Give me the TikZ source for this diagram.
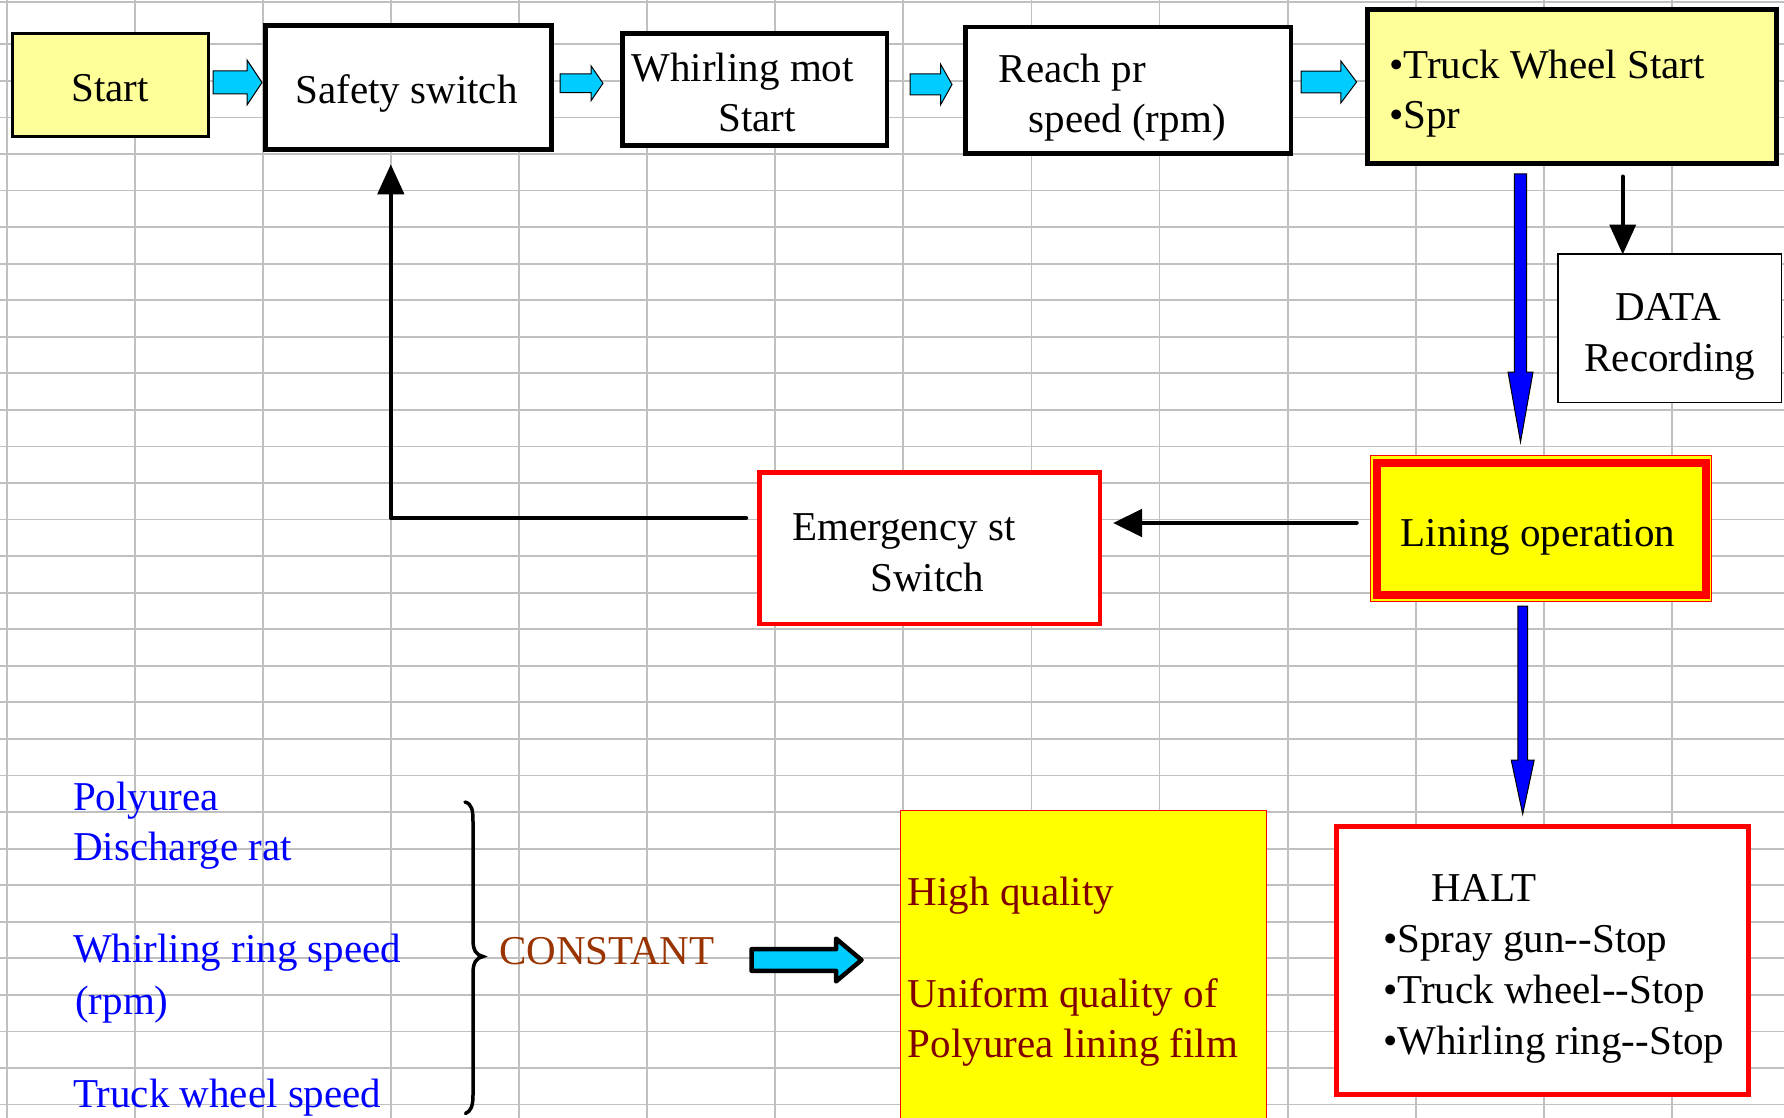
\documentclass[tikz,border=0pt]{standalone}
\usepackage{fontspec}
\setmainfont{Liberation Serif}
\usetikzlibrary{arrows.meta,calc}
\definecolor{gridc}{HTML}{C0C0C0}
\definecolor{lyel}{HTML}{FFFF99}
\definecolor{yel}{HTML}{FFFF00}
\definecolor{cyn}{HTML}{00CCFF}
\definecolor{blu}{HTML}{0000FF}
\definecolor{redc}{HTML}{FF0000}
\definecolor{brn}{HTML}{993300}
\definecolor{dred}{HTML}{800000}
\tikzset{
  gridl/.style={draw=gridc, line width=1.8pt},
  txt/.style={inner sep=0pt, font=\fontsize{41}{48}\selectfont},
  bx/.style={draw, inner sep=0pt, fill=white},
  cyarrow/.style={fill=cyn, draw=black, line width=1pt, line join=miter},
  bigarrow/.style={fill=cyn, draw=black, line width=4.5pt, line join=round},
  bluarrow/.style={fill=blu, draw=black, line width=1pt},
  blk/.style={draw=black, line width=4.5pt, line cap=round, -{Triangle[width=27pt,length=29pt]}},
}
% start x, head base x, centre y, shaft half, head half, tip x
\newcommand\cyarr[6]{\filldraw[cyarrow] (#1,#3-#4) -- (#2,#3-#4) -- (#2,#3-#5) -- (#6,#3) -- (#2,#3+#5) -- (#2,#3+#4) -- (#1,#3+#4) -- cycle;}
% centre x, start y, head base y, shaft half, head half, tip y
\newcommand\bluarr[6]{\filldraw[bluarrow] (#1-#4,#2) -- (#1+#4,#2) -- (#1+#4,#3) -- (#1+#5,#3) -- (#1,#6) -- (#1-#5,#3) -- (#1-#4,#3) -- cycle;}
\begin{document}
\begin{tikzpicture}[x=1pt,y=-1pt]
\useasboundingbox (0,0) rectangle (1784,1118);
\clip (0,0) rectangle (1784,1118);
\fill[white] (0,0) rectangle (1784,1118);
% spreadsheet grid
\foreach \i in {0,...,13} \draw[gridl] ({6.6+128.1*\i},0) -- ({6.6+128.1*\i},1118);
\draw[gridl] (0,1.7) -- (1784,1.7);
\foreach \j in {0,...,29} \draw[gridl] (0,{44.3+36.56*\j}) -- (1784,{44.3+36.56*\j});

% top row boxes
\node[bx, fill=lyel, line width=3pt, minimum width=196pt, minimum height=103pt] (start) at (110,85) {};
\node[bx, line width=4.5pt, minimum width=286pt, minimum height=124pt] (safety) at (408.5,87.5) {};
\node[bx, line width=4.5pt, minimum width=264.5pt, minimum height=112pt] (whirl) at (754.5,89.3) {};
\node[bx, line width=4.5pt, minimum width=325.5pt, minimum height=126.5pt] (reach) at (1128,90.5) {};
\node[bx, fill=lyel, line width=5pt, minimum width=409pt, minimum height=154pt] (truck) at (1572,86.5) {};
\node[bx, line width=1.5pt, minimum width=223.5pt, minimum height=148.5pt] (data) at (1669.5,328) {};
\node[bx, draw=redc, line width=4.5pt, minimum width=340.5pt, minimum height=151.5pt] (emerg) at (929.5,548) {};
\node[bx, draw=redc, fill=yel, line width=1pt, minimum width=341pt, minimum height=146pt] (linout) at (1540.5,528) {};
\node[bx, draw=redc, fill=yel, line width=8pt, minimum width=328.7pt, minimum height=132pt] (linin) at (1541.3,529.3) {};
\node[bx, draw=redc, line width=5pt, minimum width=412pt, minimum height=268pt] (halt) at (1542.5,960.5) {};
\node[bx, draw=redc, fill=yel, line width=1pt, minimum width=366pt, minimum height=330pt] (qual) at (1083.5,975) {};

% texts
\node[txt, anchor=base] (tstart) at (110,101.7) {Start};
\node[txt, anchor=base] (tsafety) at (406.5,104) {Safety switch};
\node[txt, anchor=base west] (twhirl1) at (631.5,81.7) {Whirling mot};
\node[txt, anchor=base] (twhirl2) at (757,131.7) {Start};
\node[txt, anchor=base west] (treach1) at (998.6,82.7) {Reach pr};
\node[txt, anchor=base west] (treach2) at (1028.5,132.7) {speed (rpm)};
\node[txt, anchor=base west] (ttruck1) at (1389,78.3) {•Truck Wheel Start};
\node[txt, anchor=base west] (ttruck2) at (1389,128.3) {•Spr};
\node[txt, anchor=base] (tdata1) at (1668,320.7) {DATA};
\node[txt, anchor=base] (tdata2) at (1670,371.7) {Recording};
\node[txt, anchor=base west] (temerg1) at (792,540.7) {Emergency st};
\node[txt, anchor=base] (temerg2) at (927.5,591.7) {Switch};
\node[txt, anchor=base] (tlining) at (1538,546) {Lining operation};
\node[txt, anchor=base] (thalt) at (1484,901.7) {HALT};
\node[txt, anchor=base west] (thalt1) at (1383,952.7) {•Spray gun-{}-Stop};
\node[txt, anchor=base west] (thalt2) at (1383,1003) {•Truck wheel-{}-Stop};
\node[txt, anchor=base west] (thalt3) at (1383,1054) {•Whirling ring-{}-Stop};
\node[txt, anchor=base west, text=dred] (tq1) at (907.7,905.7) {High quality};
\node[txt, anchor=base west, text=dred] (tq2) at (907.7,1007) {Uniform quality of};
\node[txt, anchor=base west, text=dred] (tq3) at (907.7,1057.7) {Polyurea lining film};
\node[txt, anchor=base west, text=blu] (tp1) at (73,810) {Polyurea};
\node[txt, anchor=base west, text=blu] (tp2) at (73,860.7) {Discharge rat};
\node[txt, anchor=base west, text=blu] (tp3) at (73,962.3) {Whirling ring speed};
\node[txt, anchor=base west, text=blu] (tp4) at (75,1014) {(rpm)};
\node[txt, anchor=base west, text=blu] (tp5) at (73,1107) {Truck wheel speed};
\node[txt, anchor=base west, text=brn] (tconst) at (499,964) {CONSTANT};

% cyan block arrows between top boxes
\cyarr{213}{247}{82.5}{11.5}{22.5}{262}
\cyarr{560}{591}{83.3}{9.3}{17.5}{603}
\cyarr{910}{940.6}{84.5}{10.5}{20.3}{952}
\cyarr{1301}{1340.8}{82}{10.8}{21}{1356.6}

% blue block arrows
\bluarr{1520.5}{174}{372}{6.2}{12.5}{442}
\bluarr{1522.7}{606}{760}{4.8}{11.5}{814}

% black connectors
\draw[blk, line width=4pt, -{Triangle[width=26pt,length=30pt]}] ($(truck.south)+(50.7,10.5)$) -- ($(truck.south)+(50.7,88.5)$);
\draw[blk] ($(linout.west)+(-13,-5)$) -- ($(emerg.east)+(11,-25)$);
\draw[blk, line width=4.5pt, line join=round, -{Triangle[width=26pt,length=30pt]}] ($(emerg.west)+(-11,-30)$) -| ($(safety.south)+(-17.7,12.5)$);

% brace
\draw[line width=3.5pt, line cap=round] (465,802) .. controls (472,804) and (473,810) .. (473,822) -- (473,940) .. controls (473,950) and (476,955) .. (483,956.5) .. controls (476,958) and (473,963) .. (473,973) -- (473,1095) .. controls (473,1106) and (471,1111) .. (465.5,1113.5);

% big cyan arrow
\filldraw[bigarrow] (751.5,949.2) -- (836,949.2) -- (836,938.6) -- (861.5,960) -- (836,981.4) -- (836,970.8) -- (751.5,970.8) -- cycle;
\end{tikzpicture}
\end{document}
